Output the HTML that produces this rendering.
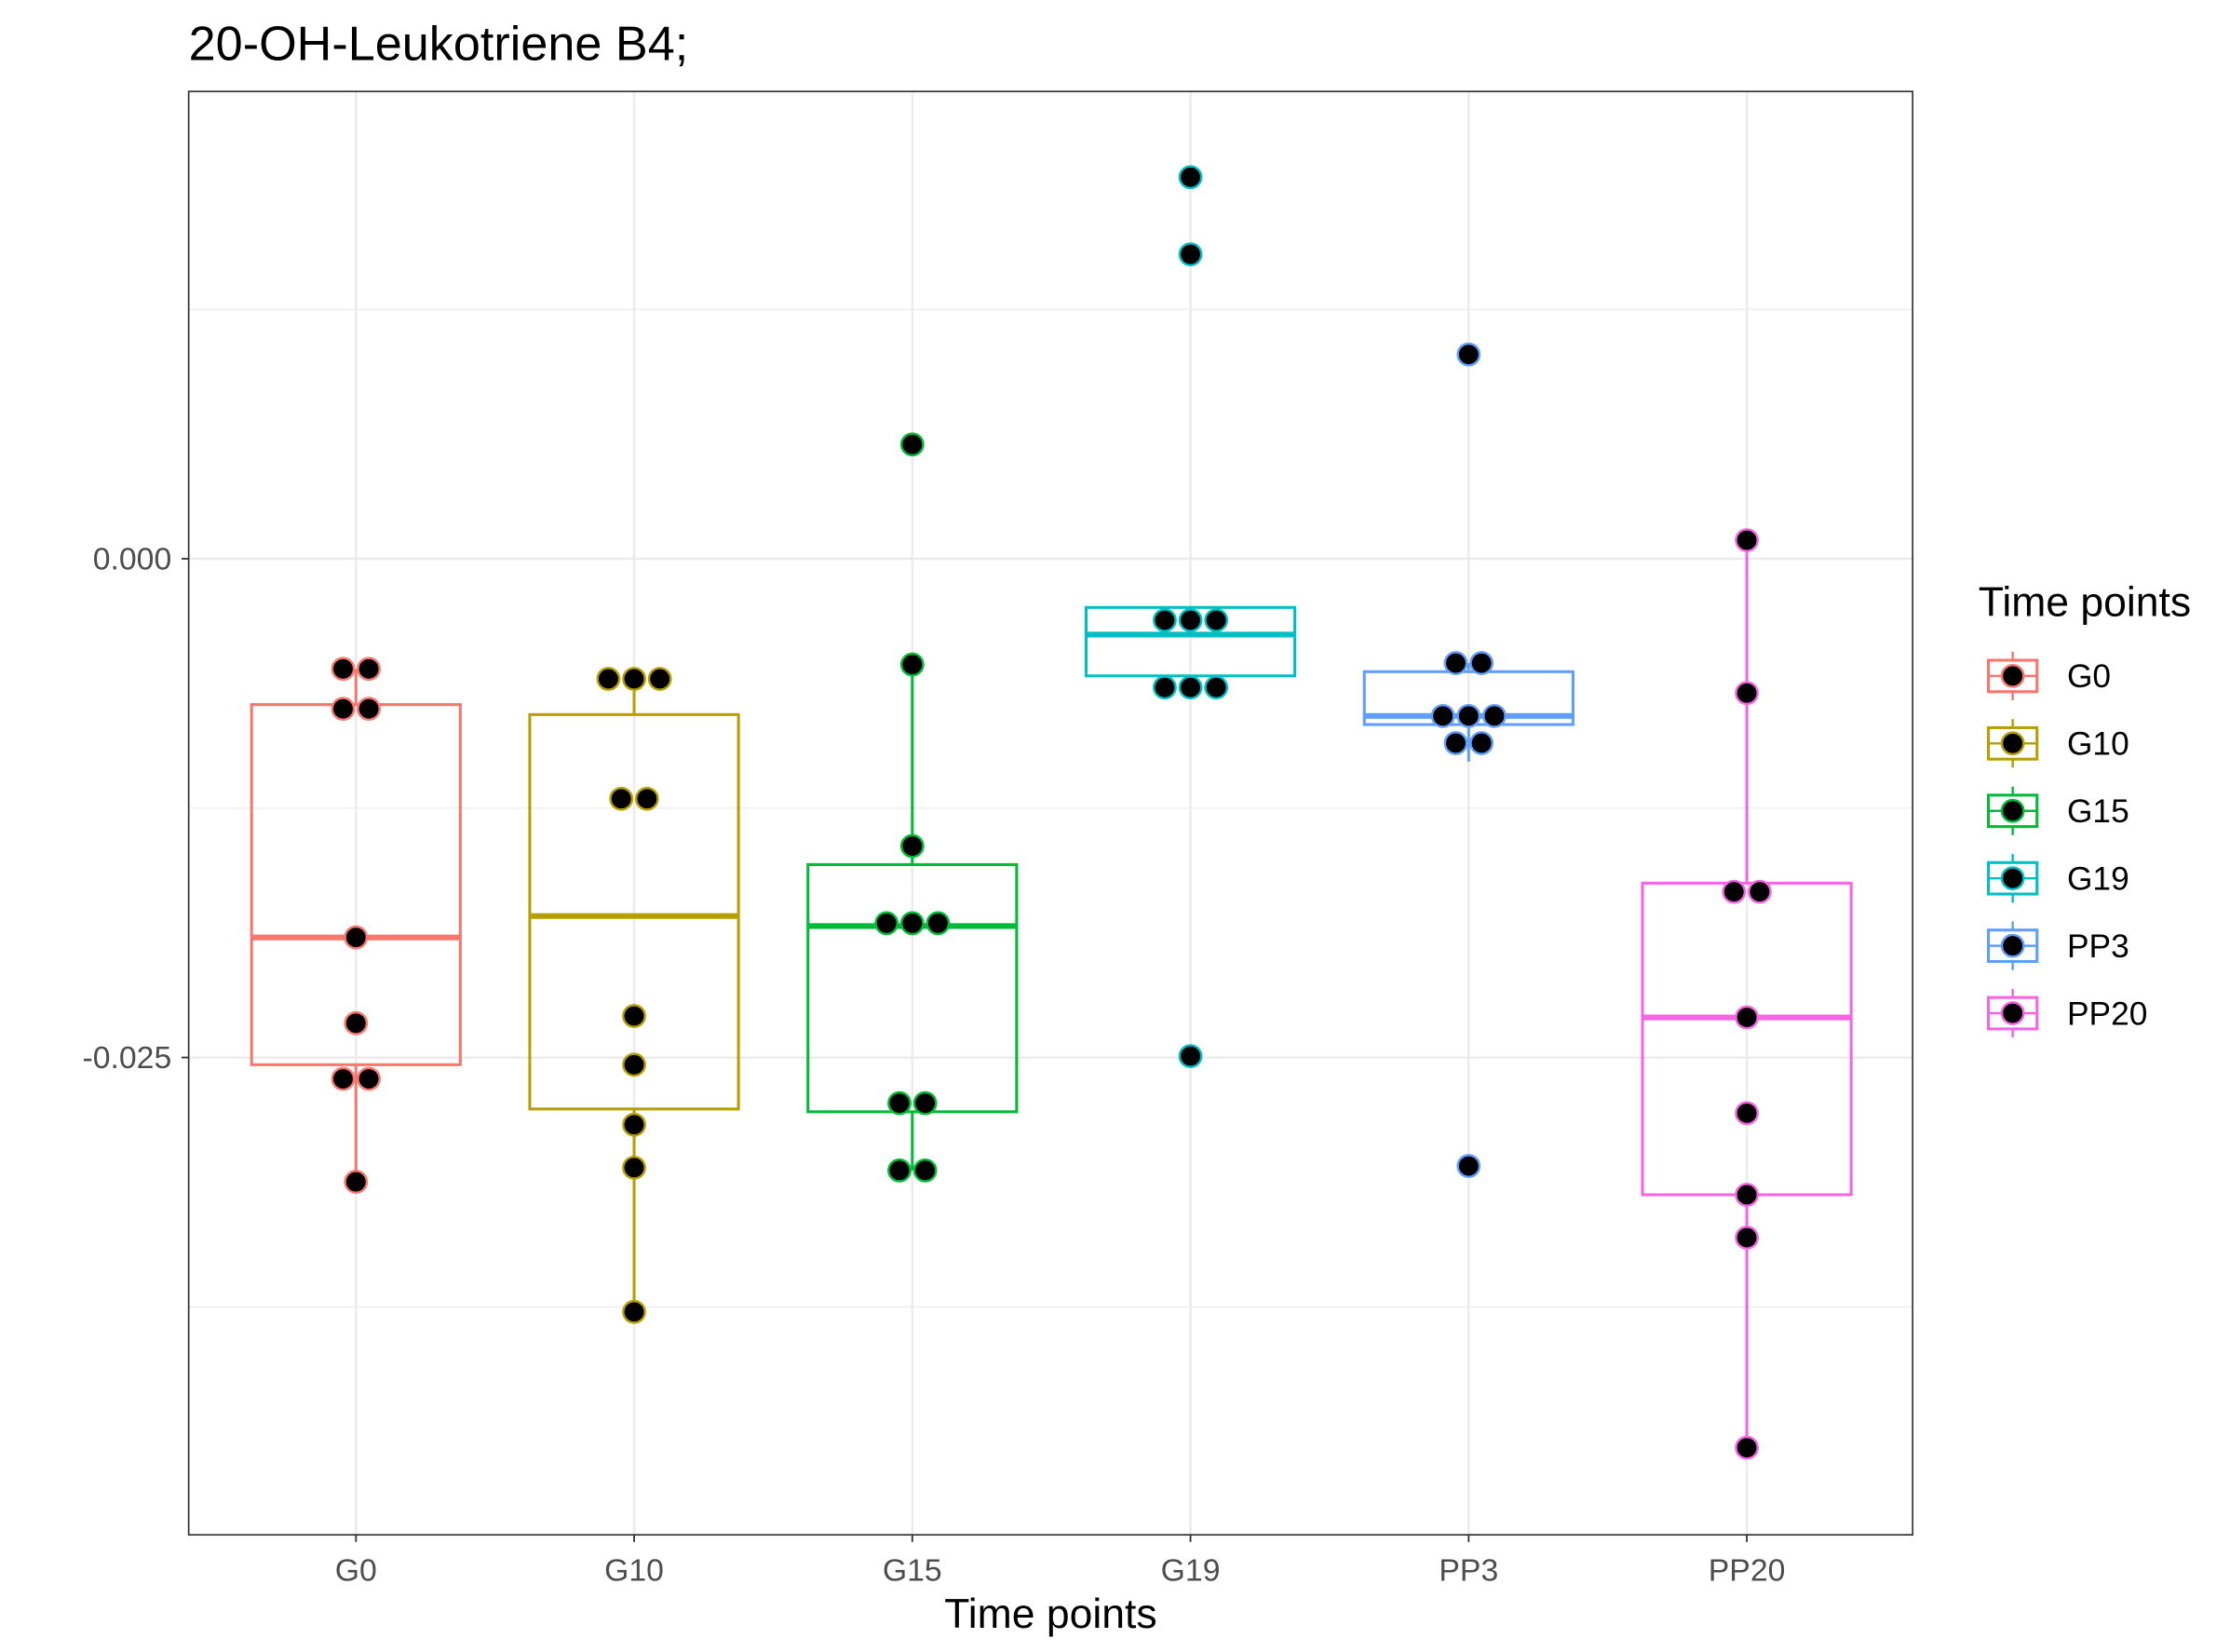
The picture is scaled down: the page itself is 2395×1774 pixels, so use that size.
<!DOCTYPE html>
<html><head><meta charset="utf-8"><style>
html,body{margin:0;padding:0;background:#fff;}
svg{display:block;font-family:"Liberation Sans",Arial,sans-serif;}
</style></head><body>
<svg id="chart" width="2395" height="1774" viewBox="0 0 1560 1156" preserveAspectRatio="none" xmlns="http://www.w3.org/2000/svg">
<rect x="0" y="0" width="1560" height="1156" fill="#fff"/>
<text x="132" y="42" font-size="34" fill="#000">20-OH-Leukotriene B4;</text>
<g id="grid"></g>
<g id="boxes"></g>
<g id="dots"></g>
<rect x="132" y="64" width="1206" height="1010" fill="none" stroke="#333" stroke-width="1.1"/>
<g id="axes"></g>
<text x="735" y="1139" font-size="29" text-anchor="middle" fill="#000">Time points</text>
<text x="1384" y="431" font-size="29" fill="#000">Time points</text>
<g id="legend"></g>
</svg>
<script>
const categories = ["G0","G10","G15","G19","PP3","PP20"];
const colors = ["#F8766D","#B79F00","#00BA38","#00BFC4","#619CFF","#F564E3"];
const q1 = [-0.02536,-0.02758,-0.02772,-0.00587,-0.00831,-0.03188];
const medians = [-0.01898,-0.01791,-0.01841,-0.00380,-0.00788,-0.02299];
const q3 = [-0.00731,-0.00781,-0.01533,-0.00244,-0.00566,-0.01626];
const whiskerLow = [-0.03123,-0.03775,-0.03066,-0.00645,-0.01017,-0.04456];
const whiskerHigh = [-0.00552,-0.00602,-0.00530,-0.00308,-0.00523,0.00093];
const pointsG0 = [-0.00552,-0.00552,-0.00752,-0.00752,-0.01898,-0.02328,-0.02607,-0.02607,-0.03123];
const pointsG10 = [-0.00602,-0.00602,-0.00602,-0.01203,-0.01203,-0.02292,-0.02536,-0.02837,-0.03052,-0.03775];
const pointsG15 = [0.00573,-0.00530,-0.01440,-0.01827,-0.01827,-0.01827,-0.02729,-0.02729,-0.03066,-0.03066];
const pointsG19 = [0.01913,0.01526,-0.00308,-0.00308,-0.00308,-0.00645,-0.00645,-0.00645,-0.02493];
const pointsPP3 = [0.01024,-0.00523,-0.00523,-0.00788,-0.00788,-0.00788,-0.00924,-0.00924,-0.03044];
const pointsPP20 = [0.00093,-0.00673,-0.01669,-0.01669,-0.02299,-0.02779,-0.03188,-0.03403,-0.04456];
const yTickValues = [0, -0.025];
const yTickLabels = ["0.000", "-0.025"];
const yMinorValues = [0.0125, -0.0125, -0.0375];

const allPoints = [pointsG0,pointsG10,pointsG15,pointsG19,pointsPP3,pointsPP20];
const NS="http://www.w3.org/2000/svg";
function yScale(v){ return 391 - v/0.025*349; }
function xScale(i){ return 249 + i*194.6; }
function mk(tag, attrs, parent){ const e=document.createElementNS(NS,tag); for(const k in attrs) e.setAttribute(k,attrs[k]); parent.appendChild(e); return e; }
const grid=document.getElementById('grid'), boxes=document.getElementById('boxes'), dots=document.getElementById('dots'), axes=document.getElementById('axes'), legend=document.getElementById('legend');

yMinorValues.forEach(v=>{
  const l=mk('line',{x1:132,x2:1338,y1:yScale(v),y2:yScale(v),stroke:'#ebebeb','stroke-width':0.8},grid);
  
  
});
yTickValues.forEach((v,i)=>{
  const y=yScale(v);
  const l=mk('line',{x1:132,x2:1338,y1:y,y2:y,stroke:'#ebebeb','stroke-width':1.6},grid);
  
  
  const t=mk('line',{x1:127,x2:132,y1:y,y2:y,stroke:'#333','stroke-width':1.2},axes);
  
  
  const tx=mk('text',{x:120,y:y+7.5,'font-size':22,'text-anchor':'end',fill:'#4d4d4d'},axes);
  tx.textContent=yTickLabels[i];
  
  
});
categories.forEach((c,i)=>{
  const x=xScale(i), col=colors[i];
  const g=mk('line',{x1:x,x2:x,y1:64,y2:1074,stroke:'#ebebeb','stroke-width':1.6},grid);
  
  
  const t=mk('line',{x1:x,x2:x,y1:1074,y2:1079,stroke:'#333','stroke-width':1.2},axes);
  
  
  const tx=mk('text',{x:x,y:1106,'font-size':22,'text-anchor':'middle',fill:'#4d4d4d'},axes);
  tx.textContent=c;
  
  
  const bg=mk('g',{},boxes);
  
  
  mk('line',{x1:x,x2:x,y1:yScale(q3[i]),y2:yScale(whiskerHigh[i]),stroke:col,'stroke-width':2},bg);
  mk('line',{x1:x,x2:x,y1:yScale(q1[i]),y2:yScale(whiskerLow[i]),stroke:col,'stroke-width':2},bg);
  mk('rect',{x:x-73,y:yScale(q3[i]),width:146,height:yScale(q1[i])-yScale(q3[i]),fill:'none',stroke:col,'stroke-width':2},bg);
  mk('line',{x1:x-73,x2:x+73,y1:yScale(medians[i]),y2:yScale(medians[i]),stroke:col,'stroke-width':4},bg);
  const pts=allPoints[i], counts={};
  pts.forEach(v=>{counts[v]=(counts[v]||0)+1;});
  const seen={};
  pts.forEach(v=>{
    const n=counts[v], k=(seen[v]||0); seen[v]=k+1;
    const cx=x+(k-(n-1)/2)*18;
    const d=mk('circle',{cx:cx,cy:yScale(v),r:7.6,fill:'#000',stroke:col,'stroke-width':1.6},dots);
    
    
  });
  const ly=473+i*47.2;
  const lg=mk('g',{},legend);
  
  
  mk('line',{x1:1408,x2:1408,y1:ly-17,y2:ly+17,stroke:col,'stroke-width':1.6},lg);
  mk('rect',{x:1391,y:ly-11,width:34,height:22,fill:'#fff',stroke:col,'stroke-width':2},lg);
  mk('line',{x1:1391,x2:1425,y1:ly,y2:ly,stroke:col,'stroke-width':1.6},lg);
  mk('circle',{cx:1408,cy:ly,r:7.6,fill:'#000',stroke:col,'stroke-width':1.6},lg);
  const lt=mk('text',{x:1446,y:ly+8,'font-size':23,fill:'#000'},lg);
  lt.textContent=c;
});
</script>
</body></html>
